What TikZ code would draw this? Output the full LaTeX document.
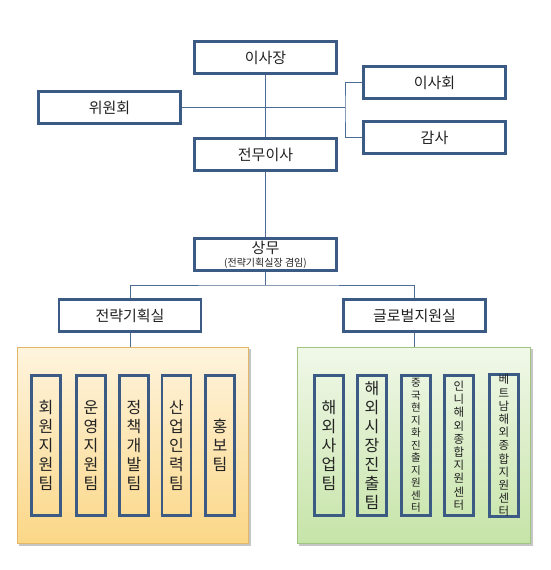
\documentclass[tikz,border=0pt]{standalone}
\usepackage{fontspec}
\setmainfont{Noto Sans CJK KR}
\usetikzlibrary{positioning, backgrounds}

\definecolor{boxblue}{HTML}{3C5B84}
\definecolor{lineblue}{HTML}{4C6C93}
\definecolor{textgray}{HTML}{222222}
\definecolor{orangeline}{HTML}{E2B868}
\definecolor{orangetop}{HTML}{FEF4DE}
\definecolor{orangebot}{HTML}{FBD787}
\definecolor{greenline}{HTML}{A0C482}
\definecolor{greentop}{HTML}{F1F8E9}
\definecolor{greenbot}{HTML}{C6E4A8}

\tikzset{
    orgbox/.style={draw=boxblue, line width=2.6pt, fill=white, text=textgray,
        minimum width=142pt, minimum height=32pt, inner sep=1pt,
        font=\fontsize{15}{17}\selectfont},
    teambox/.style={draw=boxblue, line width=2.6pt, fill=none, text=textgray,
        minimum width=29pt, minimum height=140pt, inner sep=0pt, align=center},
    orgline/.style={draw=lineblue, line width=0.9pt},
    panel/.style={draw=#1line, top color=#1top, bottom color=#1bot, line width=0.6pt,
        minimum width=231pt, minimum height=196pt},
    panelshadow/.style={fill=black!50, opacity=0.45}
}

\begin{document}
\begin{tikzpicture}[x=1pt, y=-1pt]

\useasboundingbox (0,0) rectangle (550,570);

% --- Leitung ---
\node[orgbox] (jang)   at (265.5, 57.5)  {이사장};
\node[orgbox] (isahoe) at (434.5, 82.5)  {이사회};
\node[orgbox] (wiwon)  at (109.5, 107.5) {위원회};
\node[orgbox] (gamsa)  at (434.5, 137.5) {감사};
\node[orgbox] (jeonmu) at (265.5, 154.5) {전무이사};
\node[orgbox, align=center] (sangmu) at (265.5, 254.5)
    {상무\\[-4pt]{\fontsize{10}{11}\selectfont (전략기획실장 겸임)}};

% --- Abteilungen ---
\node[orgbox] (jeonryak) at (130, 315.5)   {전략기획실};
\node[orgbox] (global)   at (414.5, 315.5) {글로벌지원실};

% --- Panels ---
\node[panel=orange] (opanel) at (132.5, 445) {};
\node[panel=green, minimum width=233pt] (gpanel) at (413.5, 445) {};

\begin{scope}[on background layer]
    \fill[panelshadow] ([shift={(2.5pt,-2.5pt)}]opanel.south west) rectangle ([shift={(2.5pt,-2.5pt)}]opanel.north east);
    \fill[panelshadow] ([shift={(2.5pt,-2.5pt)}]gpanel.south west) rectangle ([shift={(2.5pt,-2.5pt)}]gpanel.north east);
\end{scope}

% --- Teams ---
\def\tA{\fontsize{16}{19}\selectfont}
\def\tB{\fontsize{10.5}{12.5}\selectfont}
\def\tC{\fontsize{11.5}{13.2}\selectfont}

\node[teambox, font=\tA] (hoewon)  at (46, 445.5)    {회\\원\\지\\원\\팀};
\node[teambox, font=\tA] (unyeong) at (91, 445.5)    {운\\영\\지\\원\\팀};
\node[teambox, font=\tA] (jeongchaek) at (134, 445.5) {정\\책\\개\\발\\팀};
\node[teambox, font=\tA] (saneop)  at (176.5, 445.5) {산\\업\\인\\력\\팀};
\node[teambox, font=\tA] (hongbo)  at (220, 445.5)   {홍\\보\\팀};

\node[teambox, font=\tA] (haeoe)   at (329, 445.5)   {해\\외\\사\\업\\팀};
\node[teambox, font=\tA] (sijang)  at (372, 445.5)   {해\\외\\시\\장\\진\\출\\팀};
\node[teambox, font=\tB] (jungguk) at (416, 445.5)   {중\\국\\현\\지\\화\\진\\출\\지\\원\\센\\터};
\node[teambox, font=\tC] (inni)    at (459, 445.5)   {인\\니\\해\\외\\종\\합\\지\\원\\센\\터};
\node[teambox, font=\tC] (beteu)   at (504, 445.5)   {베\\트\\남\\해\\외\\종\\합\\지\\원\\센\\터};

% --- Verbindungen ---
\coordinate (brk)   at (345, 107.5);
\coordinate (split) at (265.5, 285);

\draw[orgline] (jang.south) -- (jeonmu.north);
\draw[orgline] (jeonmu.south) -- (sangmu.north);
\draw[orgline] (wiwon.east) -- (brk);
\draw[orgline] (isahoe.west) -| (brk) |- (gamsa.west);
\draw[orgline] (sangmu.south) -- (split);
\draw[orgline] (jeonryak.north) |- (split) -| (global.north);
\draw[orgline] (jeonryak.south) -- (jeonryak.south |- opanel.north);
\draw[orgline] (global.south) -- (global.south |- gpanel.north);

\end{tikzpicture}
\end{document}
